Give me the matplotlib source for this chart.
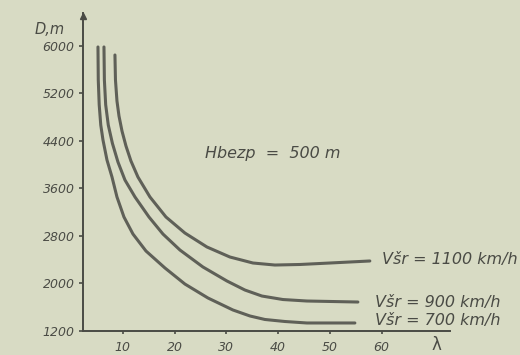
import matplotlib.pyplot as plt
import numpy as np

# lambda (x) and D in m (y)
lam_700 = [5.21, 5.27, 5.45, 5.75, 6.18, 6.95, 7.92, 8.88, 10.23, 11.97, 14.48, 18.15,
           22.0, 26.45, 31.27, 34.56, 37.45, 41.31, 45.56, 54.83]
d_700 = [5983, 5427, 5010, 4669, 4416, 4080, 3793, 3457, 3120, 2833, 2547, 2261,
         1991, 1756, 1554, 1453, 1394, 1360, 1335, 1335]

lam_900 = [6.37, 6.45, 6.70, 7.20, 8.00, 9.07, 10.42, 12.36, 15.06, 17.76, 21.04,
           25.48, 30.12, 33.59, 36.87, 40.93, 45.56, 55.41]
d_900 = [5983, 5427, 5010, 4669, 4360, 4046, 3743, 3457, 3120, 2833, 2564,
         2278, 2042, 1890, 1789, 1730, 1705, 1688]

lam_1100 = [8.49, 8.59, 8.88, 9.27, 9.85, 10.62, 11.58, 12.93, 15.25, 18.34, 22.0,
            26.25, 30.69, 35.14, 39.38, 44.2, 50.0, 57.72]
d_1100 = [5848, 5427, 5073, 4821, 4568, 4315, 4063, 3793, 3457, 3120, 2850,
          2615, 2446, 2345, 2311, 2320, 2345, 2379]

curves = [(lam_1100, d_1100), (lam_900, d_900), (lam_700, d_700)]
curve_labels = ['Všr = 1100 km/h', 'Všr = 900 km/h', 'Všr = 700 km/h']
label_pos = [(60.0, 2396), (58.7, 1672), (58.7, 1385)]

yticks = [1200, 2000, 2800, 3600, 4400, 5200, 6000]
xticks = [10, 20, 30, 40, 50, 60]

bg = '#d8dbc4'
ink = '#4a4b45'

fig = plt.figure(figsize=(5.2, 3.55), dpi=100, facecolor=bg)
ax = fig.add_axes([83 / 520, 24 / 355, 367 / 520, 318 / 355], facecolor=bg)

for (x, y), lab, (tx, ty) in zip(curves, curve_labels, label_pos):
    ax.plot(x, y, color=ink, lw=2.2, alpha=0.85, solid_joinstyle='round',
            solid_capstyle='round')
    ax.text(tx, ty, lab, fontsize=11.5, style='italic', color=ink,
            va='center', ha='left', clip_on=False)

ax.text(25.9, 4197, 'Hbezp  =  500 m', fontsize=11.5, style='italic',
        color=ink, ha='left', va='center')

ax.set_xlim(2.32, 73.2)
ax.set_ylim(1200, 6555)
ax.set_xticks(xticks)
ax.set_yticks(yticks)
ax.set_xticklabels([str(v) for v in xticks], fontsize=9, style='italic', color=ink)
ax.set_yticklabels([str(v) for v in yticks], fontsize=9, style='italic', color=ink)
ax.tick_params(axis='x', length=2, width=1.2, color=ink, pad=5)
ax.tick_params(axis='y', length=3, width=1.2, color=ink, pad=3)

for s in ['top', 'right']:
    ax.spines[s].set_visible(False)
for s in ['left', 'bottom']:
    ax.spines[s].set_color(ink)
    ax.spines[s].set_linewidth(1.4)

# arrow tip on the D axis
ax.plot([2.32], [6500], marker='^', ms=5, color=ink, clip_on=False)

fig.text(50 / 520, 1 - 30 / 355, 'D,m', fontsize=10.5, style='italic', color=ink,
         ha='center', va='center')
fig.text(436 / 520, 1 - 345 / 355, 'λ', fontsize=12, color=ink,
         ha='center', va='center')

fig.savefig('out.png', dpi=100, facecolor=bg)
